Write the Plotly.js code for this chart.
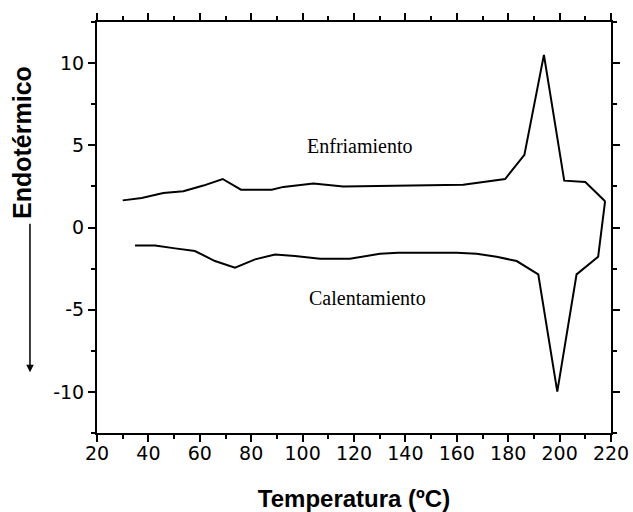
<!DOCTYPE html>
<html>
<head>
<meta charset="utf-8">
<script src="https://cdn.plot.ly/plotly-3.0.1.min.js"></script>
<style>html,body{margin:0;padding:0;background:#fff;}#chart{width:633px;height:512px;}</style>
</head>
<body>
<div id="chart"></div>
<script>
// Enfriamiento (cooling) curve
const coolT = [30, 37.4, 45.8, 53.6, 61.4, 68.9, 76, 88, 92.5, 104.2, 115.8, 147, 162.5, 178.8, 186.3, 193.9, 201.8, 210, 217.7];
const coolY = [1.65, 1.8, 2.1, 2.2, 2.55, 2.95, 2.3, 2.3, 2.47, 2.67, 2.5, 2.55, 2.6, 2.95, 4.42, 10.5, 2.85, 2.77, 1.6];
// Calentamiento (heating) curve
const heatT = [34.8, 42.6, 50.4, 58.1, 65.9, 73.7, 81.5, 89.3, 97, 106.8, 118.4, 130.1, 137.2, 159.9, 167.7, 175.5, 183.3, 191.7, 199.1, 206.6, 215, 217.7];
const heatY = [-1.09, -1.09, -1.27, -1.43, -2.04, -2.44, -1.94, -1.64, -1.74, -1.9, -1.9, -1.6, -1.54, -1.54, -1.6, -1.78, -2.04, -2.85, -9.98, -2.85, -1.78, 1.6];
// Tick labels
const xTickVals = [20, 40, 60, 80, 100, 120, 140, 160, 180, 200, 220];
const yTickVals = [-10, -5, 0, 5, 10];
const yTickText = ['-10', '-5', '0', '5', '10'];
// Labels
const coolLabel = 'Enfriamiento';
const heatLabel = 'Calentamiento';
const xTitle = 'Temperatura (ºC)';
const yTitle = 'Endotérmico';

const lineStyle = {color: '#000', width: 2};
const traces = [
  {x: coolT, y: coolY, mode: 'lines', line: lineStyle, name: coolLabel, showlegend: false, hoverinfo: 'skip'},
  {x: heatT, y: heatY, mode: 'lines', line: lineStyle, name: heatLabel, showlegend: false, hoverinfo: 'skip'}
];

const tickFont = {family: 'DejaVu Sans', size: 19, color: '#000'};
const layout = {
  width: 633, height: 512,
  margin: {l: 97, r: 22, t: 22, b: 79, pad: 0},
  paper_bgcolor: '#fff', plot_bgcolor: '#fff',
  xaxis: {
    range: [20, 220], tickvals: xTickVals, ticks: 'outside', ticklen: 7, tickwidth: 2, tickcolor: '#000',
    showline: true, linecolor: '#000', linewidth: 2, mirror: 'ticks', showgrid: false, zeroline: false,
    tickfont: tickFont, ticklabelstandoff: -5,
    minor: {dtick: 10, ticks: 'outside', ticklen: 4, tickwidth: 2, tickcolor: '#000', showgrid: false},
    title: {text: '<b>' + xTitle + '</b>', font: {family: 'Liberation Sans', size: 24, color: '#000'}, standoff: 30}
  },
  yaxis: {
    range: [-12.5, 12.5], tickvals: yTickVals, ticktext: yTickText, ticks: 'outside', ticklen: 7, tickwidth: 2, tickcolor: '#000',
    showline: true, linecolor: '#000', linewidth: 2, mirror: 'ticks', showgrid: false, zeroline: false,
    tickfont: tickFont,
    minor: {dtick: 2.5, ticks: 'outside', ticklen: 4, tickwidth: 2, tickcolor: '#000', showgrid: false}
  },
  annotations: [
    {x: 122.3, y: 4.97, xref: 'x', yref: 'y', text: coolLabel, showarrow: false,
     font: {family: 'Liberation Serif', size: 20, color: '#000'}},
    {x: 125.4, y: -4.3, xref: 'x', yref: 'y', text: heatLabel, showarrow: false,
     font: {family: 'Liberation Serif', size: 20, color: '#000'}},
    {x: -0.146, y: 0.708, xref: 'paper', yref: 'paper', xanchor: 'center', yanchor: 'middle',
     text: '<b>' + yTitle + '</b>', textangle: -90, showarrow: false,
     font: {family: 'Liberation Sans', size: 25, color: '#000'}},
    {x: -0.1304, y: 0.148, xref: 'paper', yref: 'paper', text: '', showarrow: true, ax: 0, ay: -150,
     arrowhead: 2, arrowsize: 1, arrowwidth: 1.5, arrowcolor: '#000'}
  ]
};
Plotly.newPlot('chart', traces, layout, {staticPlot: true, displayModeBar: false});
</script>
</body>
</html>
